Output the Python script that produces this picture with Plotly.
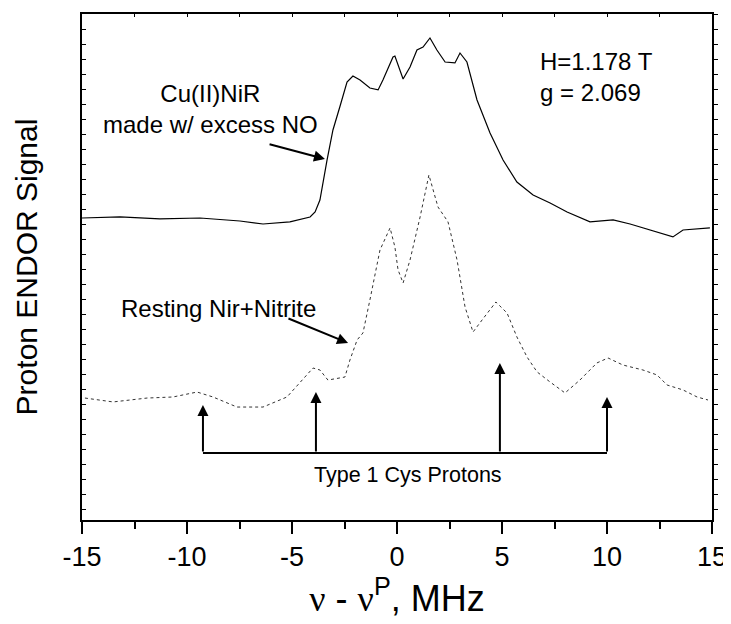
import plotly.graph_objects as go

# ---------------- data ----------------
# upper trace: Cu(II)NiR made w/ excess NO  (x in MHz, y in arbitrary signal units)
cu_x = [-15.0, -13.19, -11.29, -9.38, -7.48, -6.38, -5.10, -4.14, -3.90, -3.67, -3.33, -3.05,
        -2.71, -2.38, -2.10, -1.76, -1.29, -0.90, -0.67, -0.19, -0.10, 0.29, 0.62, 0.95, 1.24,
        1.57, 1.90, 2.29, 2.76, 3.00, 3.33, 3.81, 4.43, 5.05, 5.71, 6.48, 7.29, 8.10, 9.19,
        10.29, 11.10, 12.38, 13.14, 13.62, 14.90]
cu_y = [20.13, 20.20, 20.07, 20.13, 19.93, 19.73, 19.87, 20.20, 20.53, 21.33, 24.00, 26.00,
        27.60, 29.20, 29.60, 29.33, 28.80, 28.67, 29.33, 30.87, 30.93, 29.40, 30.20, 31.33, 31.53,
        32.13, 31.33, 30.53, 30.47, 31.13, 30.53, 28.00, 25.80, 24.00, 22.53, 21.67, 21.13, 20.53, 19.87,
        20.00, 19.73, 19.20, 18.87, 19.33, 19.47]

# lower trace: Resting NiR + Nitrite
rest_x = [-14.86, -13.52, -11.90, -10.67, -9.52, -8.76, -7.62, -6.38, -5.24, -4.62, -4.00, -3.67,
          -3.29, -2.48, -2.24, -1.90, -1.62, -1.29, -0.81, -0.33, -0.10, 0.05, 0.29, 0.62, 1.10,
          1.52, 1.95, 2.43, 2.86, 3.24, 3.62, 4.05, 4.71, 5.24, 5.71, 6.19, 6.67, 7.29, 8.00,
          8.71, 9.52, 10.05, 10.76, 11.71, 12.38, 12.86, 13.62, 14.29, 14.81]
rest_y = [8.13, 7.87, 8.13, 8.20, 8.53, 8.20, 7.53, 7.53, 8.20, 9.13, 10.13, 10.00,
          9.33, 9.53, 10.67, 12.00, 12.47, 14.67, 18.00, 19.47, 18.20, 16.67, 15.80, 17.33, 20.20,
          23.00, 20.87, 19.87, 17.33, 14.20, 12.53, 13.33, 14.53, 13.80, 12.20, 10.87, 9.87, 9.20, 8.47,
          9.33, 10.47, 10.80, 10.33, 10.00, 9.67, 9.00, 8.67, 8.20, 8.00]

# Type 1 Cys proton markers
cys_x = [-9.24, -3.86, 4.90, 10.00]
cys_tip = [7.67, 8.53, 10.47, 8.20]
cys_base = 4.47

x_ticks = [-15, -10, -5, 0, 5, 10, 15]
x_ticktext = ["-15", "-10", "-5", "0", "5", "10", "15"]
x_range = [-15, 15]
y_range = [0, 33.73]

FONT = "Arial, Liberation Sans, sans-serif"
SERIF = "Liberation Serif"

fig = go.Figure()
fig.add_trace(go.Scatter(x=cu_x, y=cu_y, mode="lines",
                         line=dict(color="black", width=1.2), showlegend=False))
fig.add_trace(go.Scatter(x=rest_x, y=rest_y, mode="lines",
                         line=dict(color="#333333", width=1, dash="dot"), showlegend=False))
# invisible trace to activate the mirrored axes
fig.add_trace(go.Scatter(x=[None], y=[None], xaxis="x2", yaxis="y2", showlegend=False))

# bracket for Type 1 Cys protons
fig.add_shape(type="line", x0=cys_x[0], x1=cys_x[-1], y0=cys_base, y1=cys_base,
              xref="x", yref="y", line=dict(color="black", width=2))
for cx, ct in zip(cys_x, cys_tip):
    fig.add_annotation(x=cx, y=ct, ax=cx, ay=cys_base, xref="x", yref="y",
                       axref="x", ayref="y", text="", showarrow=True,
                       arrowhead=2, arrowsize=1.1, arrowwidth=2, arrowcolor="black")

fig.add_annotation(x=0.52, y=3.0, xref="x", yref="y", text="Type 1 Cys Protons",
                   showarrow=False, font=dict(family=FONT, size=21.5, color="black"))

fig.add_annotation(x=-8.9, y=27.4, xref="x", yref="y",
                   text="Cu(II)NiR<br>made w/ excess NO", showarrow=False,
                   font=dict(family=FONT, size=24, color="black"))
fig.add_annotation(x=-3.43, y=24.07, ax=-6.14, ay=25.07, xref="x", yref="y",
                   axref="x", ayref="y", text="", showarrow=True,
                   arrowhead=2, arrowsize=1.1, arrowwidth=2, arrowcolor="black")

fig.add_annotation(x=-8.52, y=14.13, xref="x", yref="y", text="Resting Nir+Nitrite",
                   showarrow=False, font=dict(family=FONT, size=24, color="black"))
fig.add_annotation(x=-2.33, y=11.8, ax=-5.24, ay=13.47, xref="x", yref="y",
                   axref="x", ayref="y", text="", showarrow=True,
                   arrowhead=2, arrowsize=1.1, arrowwidth=2, arrowcolor="black")

fig.add_annotation(x=6.71, y=29.5, xref="x", yref="y", xanchor="left",
                   text="H=1.178 T<br>g = 2.069", showarrow=False, align="left",
                   font=dict(family=FONT, size=24, color="black"))

xtitle = (f'<span style="font-family:{SERIF}">ν</span> - '
          f'<span style="font-family:{SERIF}">ν</span><sup>P</sup>, MHz')

# the page body adds an 8 px offset, so the figure is 8 px smaller than the window
fig.update_layout(
    width=723, height=616,
    margin=dict(l=74, r=19, t=6, b=104),
    paper_bgcolor="white", plot_bgcolor="white",
    font=dict(family=FONT, color="black"),
    xaxis=dict(range=x_range, tickvals=x_ticks, ticktext=x_ticktext, ticks="outside",
               ticklen=12, tickwidth=1.5, tickcolor="black", showline=True, linecolor="black",
               linewidth=2, showgrid=False, zeroline=False, tickfont=dict(size=27),
               automargin=False,
               minor=dict(ticks="outside", ticklen=7, tickwidth=1.5, dtick=2.5, tick0=0,
                          tickcolor="black", showgrid=False),
               title=dict(text=xtitle, font=dict(size=36), standoff=10)),
    xaxis2=dict(range=x_range, overlaying="x", side="top", dtick=2.5, tick0=0,
                ticks="inside", ticklen=3, tickcolor="black", showticklabels=False,
                automargin=False,
                showline=True, linecolor="black", linewidth=2, showgrid=False, zeroline=False),
    yaxis=dict(range=y_range, dtick=1, tick0=0.73, ticks="inside", ticklen=4, tickcolor="black",
               showticklabels=False, showline=True, linecolor="black", linewidth=2,
               showgrid=False, zeroline=False, automargin=False,
               title=dict(text="Proton ENDOR Signal", font=dict(size=30), standoff=34)),
    yaxis2=dict(range=y_range, overlaying="y", side="right", dtick=1, tick0=0.73,
                ticks="outside", ticklen=4, tickcolor="black", showticklabels=False,
                automargin=False,
                showline=True, linecolor="black", linewidth=2, showgrid=False, zeroline=False),
)

fig.write_html("out.html")
